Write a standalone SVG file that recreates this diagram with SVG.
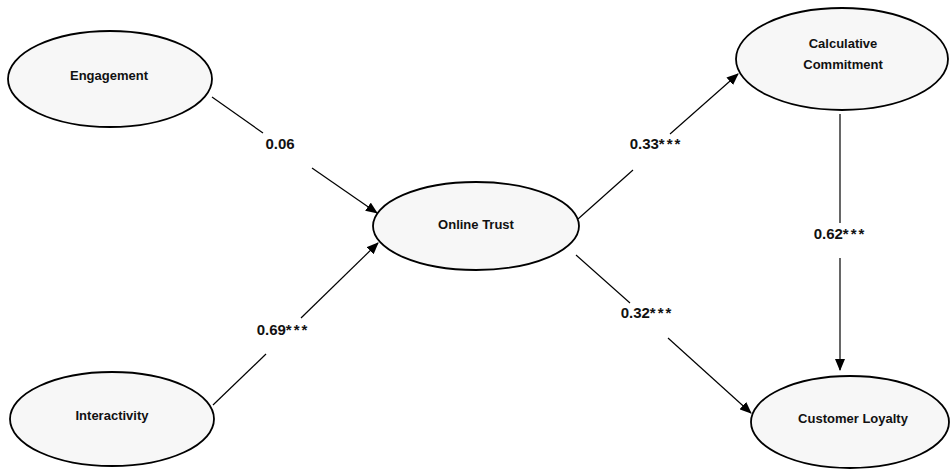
<svg xmlns="http://www.w3.org/2000/svg" width="952" height="471" viewBox="0 0 952 471">
  <defs>
    <marker id="arrow" markerUnits="userSpaceOnUse" markerWidth="12" markerHeight="10" refX="11" refY="5" orient="auto">
      <path d="M0,0 L12,5 L0,10 Z" fill="#000"/>
    </marker>
  </defs>
  <style>
    .node ellipse { fill: #f7f7f7; stroke: #000; stroke-width: 1.8; }
    .node text { font-family: "Liberation Sans", Arial, sans-serif; font-weight: bold; font-size: 13px; fill: #111; text-anchor: middle; }
    .edge line { stroke: #000; stroke-width: 1.2; }
    .lbl { font-family: "Liberation Sans", Arial, sans-serif; font-weight: bold; font-size: 15px; fill: #111; text-anchor: middle; }
    .stars { letter-spacing: 2px; }
  </style>
  <rect width="952" height="471" fill="#fff"/>

  <!-- path coefficients -->
  <g id="connectors">
    <g class="edge" id="e-engagement-trust">
      <line x1="212" y1="97" x2="263" y2="133"/>
      <line x1="312" y1="168" x2="377" y2="213" marker-end="url(#arrow)"/>
      <text class="lbl" x="280" y="149">0.06</text>
    </g>
    <g class="edge" id="e-interactivity-trust">
      <line x1="213" y1="405" x2="266" y2="354"/>
      <line x1="301" y1="318" x2="378" y2="243" marker-end="url(#arrow)"/>
      <text class="lbl" x="283" y="335">0.69<tspan class="stars">***</tspan></text>
    </g>
    <g class="edge" id="e-trust-calculative">
      <line x1="578" y1="219" x2="633" y2="170"/>
      <line x1="670" y1="134" x2="738" y2="74" marker-end="url(#arrow)"/>
      <text class="lbl" x="656" y="149">0.33<tspan class="stars">***</tspan></text>
    </g>
    <g class="edge" id="e-trust-loyalty">
      <line x1="576" y1="255" x2="630" y2="303"/>
      <line x1="668" y1="338" x2="751" y2="413" marker-end="url(#arrow)"/>
      <text class="lbl" x="647" y="318">0.32<tspan class="stars">***</tspan></text>
    </g>
    <g class="edge" id="e-calculative-loyalty">
      <line x1="840" y1="114" x2="840" y2="223"/>
      <line x1="840" y1="258" x2="840" y2="370" marker-end="url(#arrow)"/>
      <text class="lbl" x="840" y="239">0.62<tspan class="stars">***</tspan></text>
    </g>
  </g>

  <g class="node" id="engagement">
    <ellipse cx="110" cy="79" rx="102" ry="48"/>
    <text x="109" y="80">Engagement</text>
  </g>
  <g class="node" id="interactivity">
    <ellipse cx="112" cy="419" rx="102" ry="47"/>
    <text x="112" y="420">Interactivity</text>
  </g>
  <g class="node" id="online-trust">
    <ellipse cx="476" cy="226" rx="103" ry="44"/>
    <text x="476" y="229">Online Trust</text>
  </g>
  <g class="node" id="calculative-commitment">
    <ellipse cx="842" cy="59" rx="106" ry="51"/>
    <text x="843" y="48">Calculative</text>
    <text x="843" y="69">Commitment</text>
  </g>
  <g class="node" id="customer-loyalty">
    <ellipse cx="850" cy="422" rx="99" ry="46"/>
    <text x="853" y="423">Customer Loyalty</text>
  </g>
</svg>
